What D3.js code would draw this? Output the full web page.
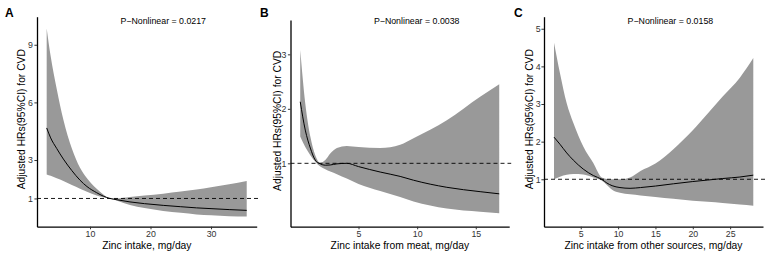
<!DOCTYPE html>
<html><head><meta charset="utf-8">
<script src="https://cdn.jsdelivr.net/npm/d3@7"></script>
<style>
html,body{margin:0;padding:0;background:#fff;}
svg{display:block;font-family:"Liberation Sans",Arial,sans-serif;}
</style></head>
<body><svg id="chart" width="767" height="253"></svg>
<script>
// ---------- Data ----------
// Panel A: total zinc intake
const xA   = [2.84, 3.5, 4.5, 5.6, 7, 8.35, 9.5, 11.1, 12.2, 13.3, 14.5, 16.6, 19, 22.1, 25, 27.6, 30, 33, 35.9];
const estA = [4.67, 4.15, 3.6, 3.05, 2.45, 1.95, 1.62, 1.3, 1.12, 1.0, 0.93, 0.82, 0.73, 0.64, 0.57, 0.51, 0.47, 0.42, 0.38];
const hiA  = [9.85, 8.4, 6.7, 5.1, 3.6, 2.6, 2.05, 1.5, 1.2, 1.0, 1.0, 1.07, 1.15, 1.25, 1.36, 1.46, 1.58, 1.74, 1.91];
const loA  = [2.25, 2.18, 2.05, 1.91, 1.7, 1.51, 1.35, 1.16, 1.06, 1.0, 0.88, 0.66, 0.5, 0.35, 0.25, 0.17, 0.12, 0.08, 0.06];
const yTicksA = [1, 3, 6, 9];
const xTicksA = [10, 20, 30];

// Panel B: zinc intake from meat
const xB   = [0.03, 0.46, 0.89, 1.31, 1.74, 2.17, 2.59, 3.16, 4.0, 5.0, 6.85, 8.55, 9.69, 12.53, 15.37, 17.0];
const estB = [2.13, 1.61, 1.28, 1.06, 0.99, 0.965, 0.97, 0.99, 1.0, 0.94, 0.84, 0.76, 0.69, 0.56, 0.48, 0.44];
const hiB  = [3.08, 2.10, 1.49, 1.15, 1.01, 1.06, 1.18, 1.28, 1.32, 1.30, 1.28, 1.34, 1.46, 1.79, 2.22, 2.45];
const loB  = [1.49, 1.30, 1.15, 1.03, 0.94, 0.89, 0.85, 0.80, 0.72, 0.62, 0.49, 0.38, 0.30, 0.17, 0.11, 0.085];
const yTicksB = [1, 2, 3];
const xTicksB = [5, 10, 15];

// Panel C: zinc intake from other sources
const xC   = [1.42, 2.22, 3.12, 4.0, 5.34, 6.68, 7.8, 8.5, 9.2, 10.25, 11.6, 13, 15, 17.4, 20, 22, 24, 26.3, 28.1];
const estC = [2.12, 1.93, 1.70, 1.51, 1.27, 1.1, 1.0, 0.9, 0.83, 0.78, 0.76, 0.78, 0.82, 0.88, 0.94, 0.98, 1.02, 1.06, 1.11];
const hiC  = [4.63, 3.82, 3.02, 2.5, 1.87, 1.43, 1.05, 1.01, 1.0, 1.0, 1.05, 1.22, 1.42, 1.8, 2.3, 2.75, 3.2, 3.7, 4.22];
const loC  = [1.0, 1.07, 1.12, 1.14, 1.13, 1.05, 0.97, 0.85, 0.72, 0.64, 0.6, 0.57, 0.53, 0.48, 0.43, 0.40, 0.37, 0.33, 0.30];
const yTicksC = [1, 2, 3, 4, 5];
const xTicksC = [5, 10, 15, 20, 25];

const letters = ["A", "B", "C"];
const xTitles = ["Zinc intake, mg/day", "Zinc intake from meat, mg/day", "Zinc intake from other sources, mg/day"];
const yTitle = "Adjusted HRs(95%CI) for CVD";
const pLabels = ["P\u2212Nonlinear = 0.0217", "P\u2212Nonlinear = 0.0038", "P\u2212Nonlinear = 0.0158"];
const refHR = 1;

// ---------- Layout ----------
const panels = [
  {x: xA, est: estA, hi: hiA, lo: loA, yTicks: yTicksA, xTicks: xTicksA,
   xDom: [1.24, 37.55], xRng: [37, 256.7], yDom: [-0.47, 10.46], yRng: [226.7, 16.7],
   pX: 22.1, letterX: 5, titleX: 25, pad: 1.4},
  {x: xB, est: estB, hi: hiB, lo: loB, yTicks: yTicksB, xTicks: xTicksB,
   xDom: [-0.8, 17.85], xRng: [290.5, 509.2], yDom: [-0.163, 3.63], yRng: [226.7, 20],
   pX: 9.96, letterX: 260, titleX: 280.5, pad: 1.4},
  {x: xC, est: estC, hi: hiC, lo: loC, yTicks: yTicksC, xTicks: xTicksC,
   xDom: [0.08, 29.4], xRng: [544, 763], yDom: [-0.26, 5.32], yRng: [226.7, 16.7],
   pX: 17.0, letterX: 514, titleX: 533.2, pad: 0.8}
];

const svg = d3.select("#chart");
const fmt = d3.format("d");

panels.forEach((p, i) => {
  const xs = d3.scaleLinear().domain(p.xDom).range(p.xRng);
  const ys = d3.scaleLinear().domain(p.yDom).range(p.yRng);
  const g = svg.append("g");
  const rows = p.x.map((v, k) => ({x: v, est: p.est[k], hi: p.hi[k], lo: p.lo[k]}));

  // CI band
  g.append("path")
    .datum(rows)
    .attr("fill", "#999999")
    .attr("d", d3.area().curve(d3.curveMonotoneX)
      .x(d => xs(d.x)).y0(d => ys(d.lo)).y1(d => ys(d.hi)));

  // Estimate line
  g.append("path")
    .datum(rows)
    .attr("fill", "none")
    .attr("stroke", "#000")
    .attr("stroke-width", 1)
    .attr("d", d3.line().curve(d3.curveMonotoneX).x(d => xs(d.x)).y(d => ys(d.est)));

  // Reference dashed line
  g.append("line")
    .attr("x1", p.xRng[0]).attr("x2", p.xRng[1] + 2)
    .attr("y1", ys(refHR)).attr("y2", ys(refHR))
    .attr("stroke", "#000").attr("stroke-width", 0.9)
    .attr("stroke-dasharray", "4,3");

  // Axes
  const xAxis = d3.axisBottom(xs).tickValues(p.xTicks).tickFormat(fmt)
    .tickSize(2.6).tickPadding(1.5).tickSizeOuter(0);
  const yAxis = d3.axisLeft(ys).tickValues(p.yTicks).tickFormat(fmt)
    .tickSize(2.6).tickPadding(p.pad).tickSizeOuter(0);
  const gx = g.append("g").attr("transform", `translate(0,${p.yRng[0]})`).call(xAxis);
  const gy = g.append("g").attr("transform", `translate(${p.xRng[0]},0)`).call(yAxis);
  [gx, gy].forEach(ax => {
    ax.select(".domain").attr("stroke", "#000").attr("stroke-width", 1.3);
    ax.selectAll(".tick line").attr("stroke", "#333").attr("stroke-width", 1);
    ax.selectAll(".tick text").attr("fill", "#333").attr("font-size", 8.8)
      .attr("font-family", "Liberation Sans, Arial, sans-serif");
  });

  // Titles
  g.append("text")
    .attr("x", (p.xRng[0] + p.xRng[1]) / 2).attr("y", 249)
    .attr("text-anchor", "middle").attr("font-size", 10.3).attr("fill", "#000")
    .text(xTitles[i]);
  g.append("text")
    .attr("transform", `translate(${p.titleX},${(p.yRng[0] + p.yRng[1]) / 2 - 2.5}) rotate(-90)`)
    .attr("text-anchor", "middle").attr("font-size", 10.3).attr("fill", "#000")
    .text(yTitle);
  g.append("text")
    .attr("x", xs(p.pX)).attr("y", 24)
    .attr("text-anchor", "middle").attr("font-size", 8.8).attr("fill", "#000")
    .text(pLabels[i]);
  g.append("text")
    .attr("x", p.letterX).attr("y", 16.7)
    .attr("font-size", 12).attr("font-weight", "bold").attr("fill", "#000")
    .text(letters[i]);
});
</script>
</body></html>
